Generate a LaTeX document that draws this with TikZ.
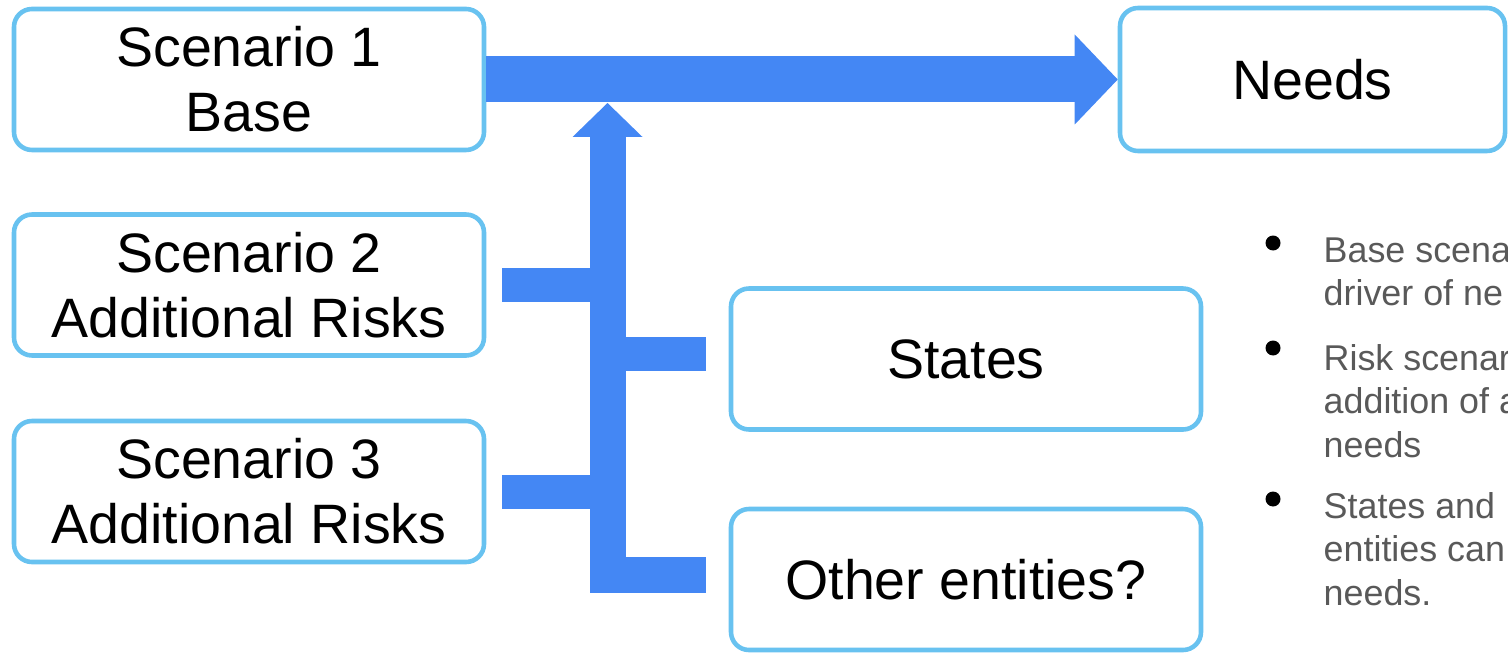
\documentclass[tikz,border=0pt]{standalone}
\usepackage{fontspec}
\setmainfont{Liberation Sans}
\usetikzlibrary{arrows.meta,positioning}
\definecolor{boxblue}{RGB}{104,194,240}
\definecolor{arrowblue}{RGB}{68,135,244}
\definecolor{notegray}{RGB}{89,89,89}

\begin{document}
\begin{tikzpicture}[
  every node/.style={font=\fontsize{15.8}{18.5}\selectfont},
  scenbox/.style={draw=boxblue,line width=1.3pt,rounded corners=0.18cm,fill=white,minimum width=4.70cm,minimum height=1.41cm,align=center},
  mainarr/.style={arrowblue,line width=0.46cm,-{Triangle[length=0.43cm,width=0.90cm,line width=0pt]}},
  uparr/.style={arrowblue,line width=0.36cm,-{Triangle[length=0.34cm,width=0.70cm,line width=0pt]}},
  branch/.style={arrowblue,line width=0.34cm},
  note/.style={font=\fontsize{10.2}{12.3}\selectfont,text=notegray,align=left,anchor=north west,inner sep=0pt},
  bulletdot/.style={circle,fill=black,inner sep=0pt,minimum size=0.15cm}
]
\useasboundingbox (0,0) rectangle (15.08,6.55);
% Scenarios
\node[scenbox] (s1) at (2.49,5.755) {Scenario 1\\Base};
\node[scenbox] (s2) at (2.49,3.70) {Scenario 2\\Additional Risks};
\node[scenbox] (s3) at (2.49,1.635) {Scenario 3\\Additional Risks};
% Needs, states, others
\node[scenbox,minimum width=3.85cm,minimum height=1.43cm] (needs) at (13.125,5.755) {Needs};
\node[scenbox] (states) at (9.66,2.96) {States};
\node[scenbox] (other) at (9.66,0.755) {Other entities?};
% Arrows
\coordinate (join) at (6.075,5.52);
\draw[mainarr] (s1.east) -- (needs.west);
\draw[branch] ([xshift=0.16cm]s2.east) -- (s2.east -| join);
\draw[branch] ([xshift=0.16cm]s3.east) -- (s3.east -| join);
\draw[branch] ([yshift=0.05cm]states.west -| join) -- ([shift={(-0.23cm,0.05cm)}]states.west);
\draw[uparr] ([shift={(-0.23cm,0.05cm)}]other.west) -- ([yshift=0.05cm]other.west -| join) -- (join);
% Notes
\node[note] (n1) at (13.23,4.18) {Base scena\\driver of ne};
\node[note] (n2) at (13.23,3.11) {Risk scenar\\addition of a\\needs};
\node[note] (n3) at (13.23,1.63) {States and\\entities can\\needs.};
\node[bulletdot] (d1) at ([xshift=-0.5cm,yshift=-0.06cm]n1.north west) {};
\node[bulletdot] (d2) at ([xshift=-0.5cm,yshift=-0.04cm]n2.north west) {};
\node[bulletdot] (d3) at ([xshift=-0.5cm,yshift=-0.07cm]n3.north west) {};
\end{tikzpicture}
\end{document}
